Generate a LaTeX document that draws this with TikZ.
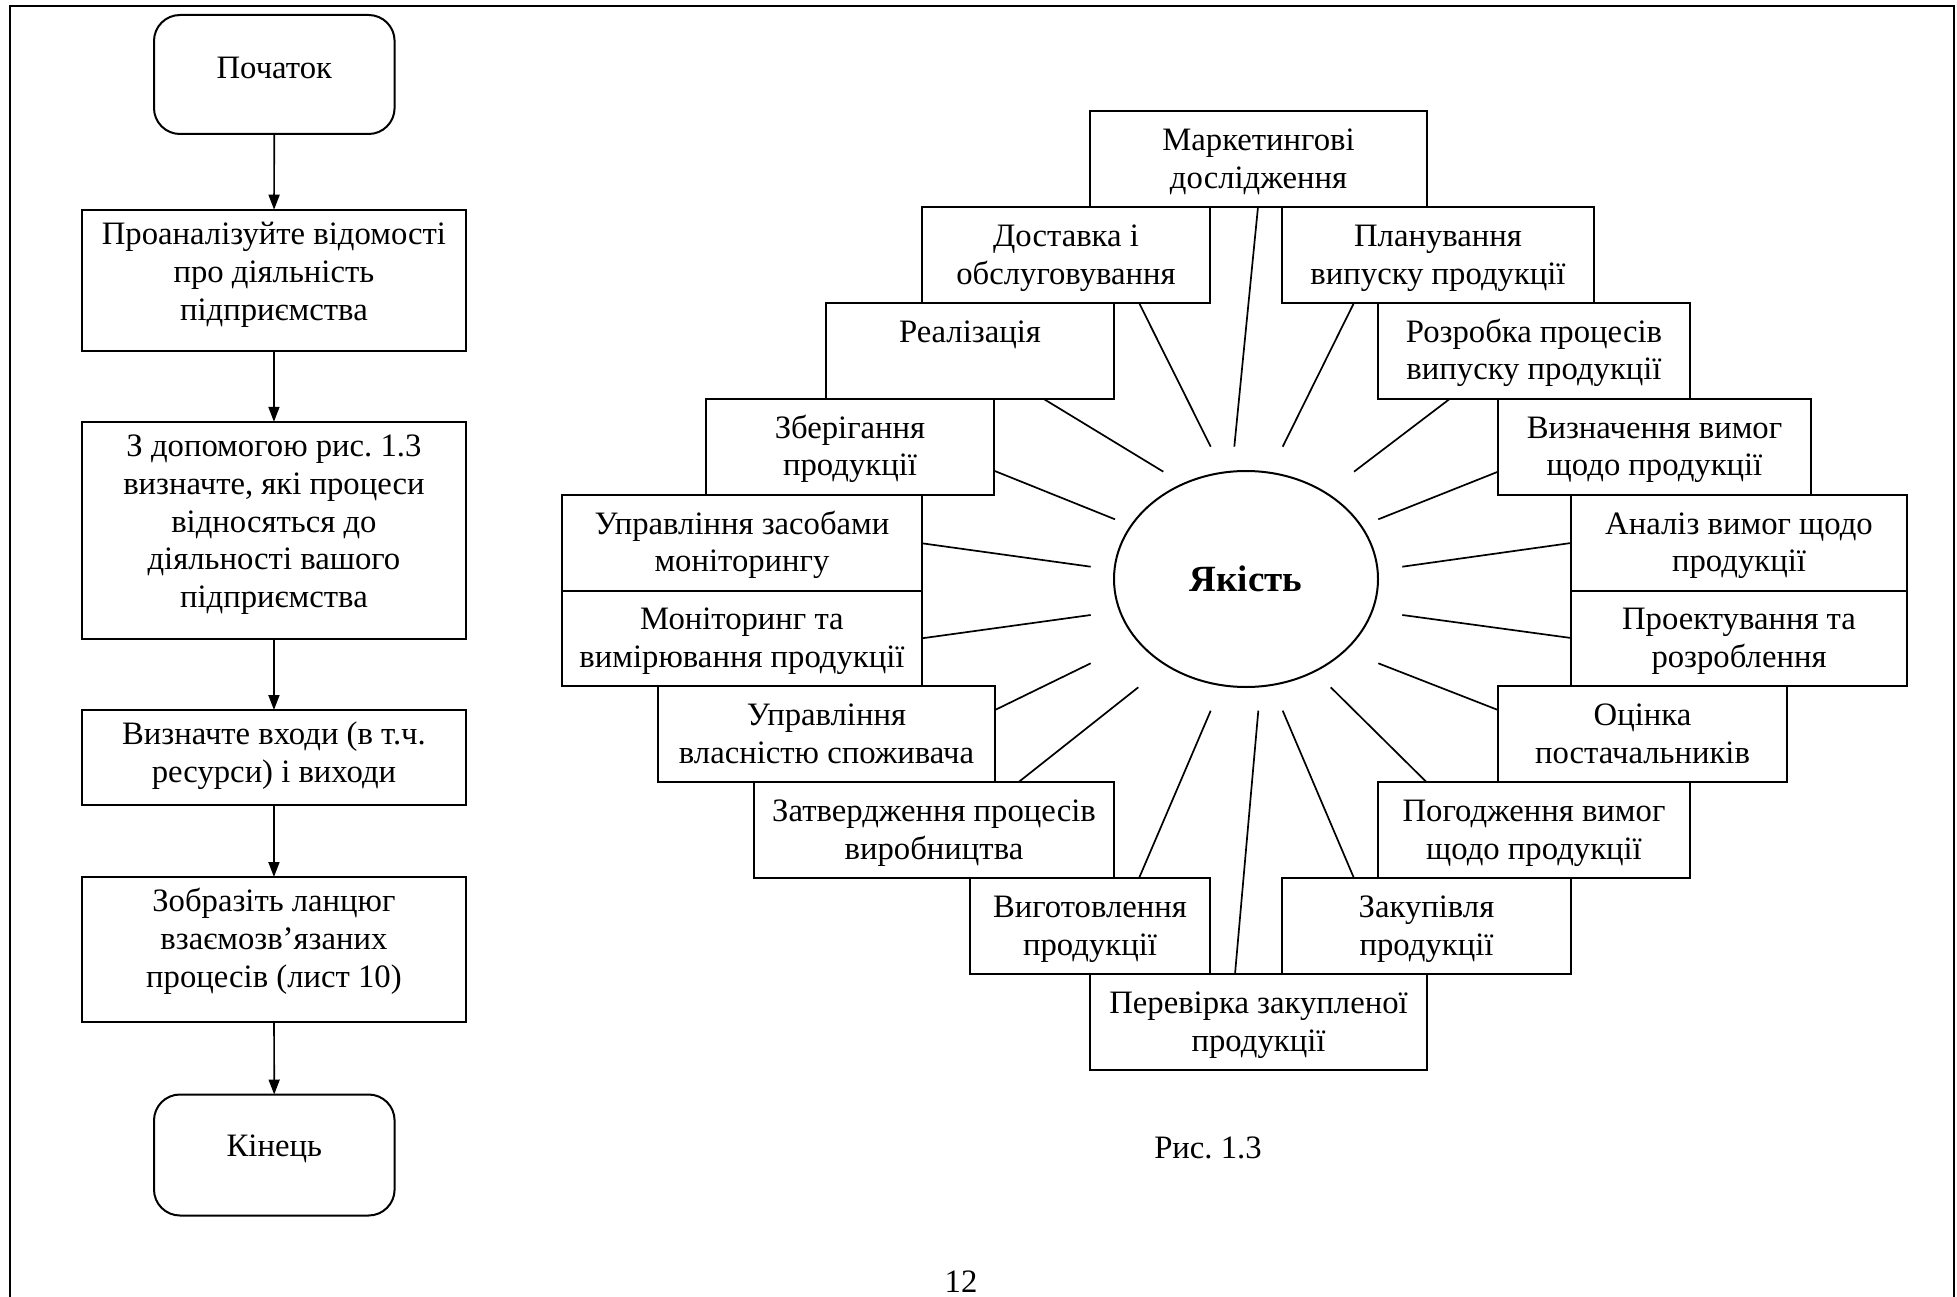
\documentclass[tikz,border=0pt]{standalone}
\usepackage{fontspec}
\setmainfont{Liberation Serif}
\usetikzlibrary{arrows.meta,shapes.geometric}
% fixed-size cell: width, height, top gap, text (lines separated by \\)
\newcommand\cellbox[4]{\parbox[c][#2][t]{#1}{\centering\vspace*{#3}\strut#4}}

\begin{document}
\frenchspacing
\begin{tikzpicture}[x=1pt,y=-1pt,
  font=\fontsize{32.7}{37.7}\selectfont,
  cell/.style={draw,line width=2pt,inner sep=0pt,outer sep=0pt,anchor=north west},
  term/.style={cell,rounded corners=26pt},
  ray/.style={line width=1.7pt},
  flow/.style={line width=1.7pt,-{Triangle[length=15pt,width=11pt]}}]
\useasboundingbox (0,0) rectangle (1957,1297);

% page frame (open at the bottom)
\draw[line width=1.6pt] (10,1297) -- (10,6) -- (1954,6) -- (1954,1297);

% ---------------- flowchart ----------------
\node[term] (start) at (154,15) {\cellbox{240.6pt}{119pt}{36.9pt}{Початок}};
\node[cell] (s1) at (82.4,209.7) {\cellbox{383.1pt}{141pt}{8.6pt}{Проаналізуйте відомості\\про діяльність\\підприємства}};
\node[cell] (s2) at (82.4,421.8) {\cellbox{383.1pt}{217.2pt}{8.6pt}{З допомогою рис. 1.3\\визначте, які процеси\\відносяться до\\діяльності вашого\\підприємства}};
\node[cell] (s3) at (82.4,710) {\cellbox{383.1pt}{95pt}{8.6pt}{Визначте входи (в т.ч.\\ресурси) і виходи}};
\node[cell] (s4) at (82.4,877) {\cellbox{383.1pt}{145pt}{8.6pt}{Зобразіть ланцюг\\взаємозв’язаних\\процесів (лист 10)}};
\node[term] (fin) at (154,1094.5) {\cellbox{240.6pt}{121pt}{36pt}{Кінець}};

\draw[flow] (start) -- (s1);
\draw[flow] (s1) -- (s2);
\draw[flow] (s2) -- (s3);
\draw[flow] (s3) -- (s4);
\draw[flow] (s4) -- (fin);

% ---------------- quality diagram ----------------
\node[draw,ellipse,line width=2pt,inner sep=0pt,minimum width=264pt,minimum height=216pt,
      font=\fontsize{37}{42}\selectfont\bfseries] (q) at (1246,579) {Якість};

\node[cell] (mark) at (1090,111)   {\cellbox{337pt}{95.9pt}{13.1pt}{Маркетингові\\дослідження}};
\node[cell] (dost) at (922,206.9)  {\cellbox{288pt}{95.9pt}{13.1pt}{Доставка і\\обслуговування}};
\node[cell] (plan) at (1282,206.9) {\cellbox{312pt}{95.9pt}{13.1pt}{Планування\\випуску продукції}};
\node[cell] (real) at (826,302.8)  {\cellbox{288pt}{95.9pt}{13.1pt}{Реалізація}};
\node[cell] (rozr) at (1378,302.8) {\cellbox{312pt}{95.9pt}{13.1pt}{Розробка процесів\\випуску продукції}};
\node[cell] (zber) at (706,398.7)  {\cellbox{288pt}{95.9pt}{13.1pt}{Зберігання\\продукції}};
\node[cell] (vyzn) at (1498,398.7) {\cellbox{313pt}{95.9pt}{13.1pt}{Визначення вимог\\щодо продукції}};
\node[cell] (uzas) at (562,494.6)  {\cellbox{360pt}{95.9pt}{13.1pt}{Управління засобами\\моніторингу}};
\node[cell] (anal) at (1571,494.6) {\cellbox{336pt}{95.9pt}{13.1pt}{Аналіз вимог щодо\\продукції}};
\node[cell] (moni) at (562,590.5)  {\cellbox{360pt}{95.9pt}{13.1pt}{Моніторинг та\\вимірювання продукції}};
\node[cell] (proe) at (1571,590.5) {\cellbox{336pt}{95.9pt}{13.1pt}{Проектування та\\розроблення}};
\node[cell] (uvla) at (658,686.4)  {\cellbox{337pt}{95.9pt}{13.1pt}{Управління\\власністю споживача}};
\node[cell] (otsi) at (1498,686.4) {\cellbox{289pt}{95.9pt}{13.1pt}{Оцінка\\постачальників}};
\node[cell] (zatv) at (754,782.3)  {\cellbox{360pt}{95.9pt}{13.1pt}{Затвердження процесів\\виробництва}};
\node[cell] (pogo) at (1378,782.3) {\cellbox{312pt}{95.9pt}{13.1pt}{Погодження вимог\\щодо продукції}};
\node[cell] (vyho) at (970,878.2)  {\cellbox{240pt}{95.9pt}{13.1pt}{Виготовлення\\продукції}};
\node[cell] (zaku) at (1282,878.2) {\cellbox{289pt}{95.9pt}{13.1pt}{Закупівля\\продукції}};
\node[cell] (pere) at (1090,974.1) {\cellbox{337pt}{95.9pt}{13.1pt}{Перевірка закупленої\\продукції}};

% inner ends of the rays around the ellipse
\coordinate (r-mark) at (1234.3,446.7);
\coordinate (r-dost) at (1210.7,446.7);
\coordinate (r-plan) at (1282.7,446.7);
\coordinate (r-real) at (1163.3,471.7);
\coordinate (r-rozr) at (1354,471.7);
\coordinate (r-zber) at (1115,519.3);
\coordinate (r-vyzn) at (1378.3,519.3);
\coordinate (r-uzas) at (1090.7,566.7);
\coordinate (r-anal) at (1402.3,566.7);
\coordinate (r-moni) at (1090.7,615);
\coordinate (r-proe) at (1402.3,615);
\coordinate (r-uvla) at (1090.7,663.3);
\coordinate (r-otsi) at (1378.3,663.3);
\coordinate (r-zatv) at (1138.3,687.3);
\coordinate (r-pogo) at (1330.7,687.3);
\coordinate (r-vyho) at (1210.7,710.7);
\coordinate (r-pere) at (1258.3,710.7);
\coordinate (r-zaku) at (1282.7,710.7);

\draw[ray] ([xshift=168pt]mark.south west) -- (r-mark);
\draw[ray] ([xshift=217pt]dost.south west) -- (r-dost);
\draw[ray] ([xshift=72pt]plan.south west) -- (r-plan);
\draw[ray] ([xshift=217.3pt]real.south west) -- (r-real);
\draw[ray] ([xshift=72pt]rozr.south west) -- (r-rozr);
\draw[ray] ([yshift=-72pt]zber.north east) -- (r-zber);
\draw[ray] ([yshift=-73pt]vyzn.north west) -- (r-vyzn);
\draw[ray] ([yshift=-48.7pt]uzas.north east) -- (r-uzas);
\draw[ray] ([yshift=-48.4pt]anal.north west) -- (r-anal);
\draw[ray] ([yshift=-47.8pt]moni.north east) -- (r-moni);
\draw[ray] ([yshift=-47.5pt]proe.north west) -- (r-proe);
\draw[ray] ([yshift=-23.6pt]uvla.north east) -- (r-uvla);
\draw[ray] ([yshift=-23.6pt]otsi.north west) -- (r-otsi);
\draw[ray] ([xshift=264.3pt]zatv.north west) -- (r-zatv);
\draw[ray] ([xshift=48.7pt]pogo.north west) -- (r-pogo);
\draw[ray] ([xshift=169pt]vyho.north west) -- (r-vyho);
\draw[ray] ([xshift=145pt]pere.north west) -- (r-pere);
\draw[ray] ([xshift=72pt]zaku.north west) -- (r-zaku);

% captions
\node[anchor=base,inner sep=0pt] (cap) at (1208,1158) {Рис. 1.3};
\node[anchor=base,inner sep=0pt] (pg) at (961,1292) {12};
\end{tikzpicture}
\end{document}
